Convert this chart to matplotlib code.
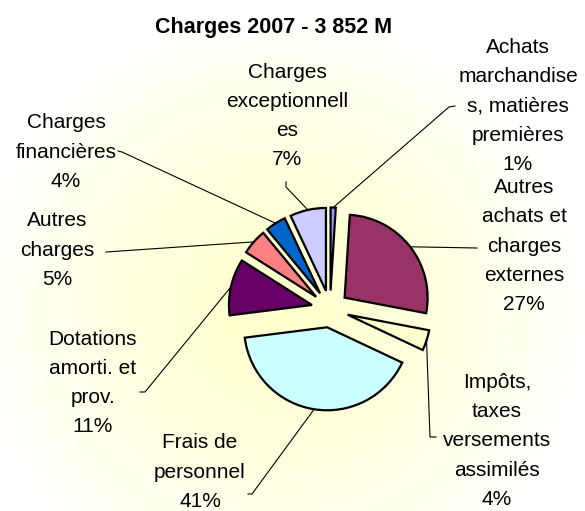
import numpy as np
import matplotlib
matplotlib.use("Agg")
import matplotlib.pyplot as plt

# ---- data ----
title = "Charges 2007 - 3 852 M"
categories = [
    "Achats\nmarchandise\ns, matières\npremières",
    "Autres\nachats et\ncharges\nexternes",
    "Impôts,\ntaxes\nversements\nassimilés",
    "Frais de\npersonnel",
    "Dotations\namorti. et\nprov.",
    "Autres\ncharges",
    "Charges\nfinancières",
    "Charges\nexceptionnell\nes",
]
shares = [1, 27, 4, 41, 11, 5, 4, 7]
colors = ["#9999FF", "#993366", "#FFFFCC", "#CCFFFF",
          "#660066", "#FF8080", "#0066CC", "#CCCCFF"]

# ---- layout (pixel coordinates, y downwards) ----
W, H = 585, 511
CENTER = (330, 309)
RADIUS = 83
EXPLODE = 18.5
label_pos = [(518, 106), (524, 246), (497, 441), (200, 472),
             (93, 383), (57, 250), (66, 152), (287, 116)]
leader_elbows = [
    [(449, 107), (455, 106)],
    [(477, 248)],
    [(430, 437), (436, 437)],
    [(252, 494), (248, 494)],
    [(145, 392), (140, 392)],
    [(106, 252)],
    [(122, 152), (118, 151)],
    [(286, 187), (286, 182)],
]

fig = plt.figure(figsize=(W / 100, H / 100), dpi=100)
ax = fig.add_axes([0, 0, 1, 1])

# background radial gradient (light yellow centre -> white edges)
yy, xx = np.mgrid[0:H, 0:W]
t = np.sqrt(((xx - 280) / 310.0) ** 2 + ((yy - 310) / 300.0) ** 2)
t = np.clip(t, 0, 1) ** 1.3
c0 = np.array([255, 255, 204]) / 255.0
c1 = np.array([255, 255, 255]) / 255.0
img = c0[None, None, :] * (1 - t[..., None]) + c1[None, None, :] * t[..., None]
ax.imshow(img, extent=[0, W, H, 0], zorder=0, interpolation="bilinear")

wedges, _ = ax.pie(shares, colors=colors, startangle=-90, counterclock=True,
                   radius=RADIUS, center=CENTER,
                   explode=[EXPLODE] * len(shares), frame=True,
                   wedgeprops=dict(edgecolor="black", linewidth=1.6, zorder=2))

ax.set_xlim(0, W)
ax.set_ylim(H, 0)
ax.axis("off")

for w, cat, s, (lx, ly), elbows in zip(wedges, categories, shares, label_pos, leader_elbows):
    tm = np.radians((w.theta1 + w.theta2) / 2)
    px = w.center[0] + w.r * np.cos(tm)
    py = w.center[1] + w.r * np.sin(tm)
    xs = [px] + [e[0] for e in elbows]
    ys = [py] + [e[1] for e in elbows]
    ax.plot(xs, ys, color="black", lw=0.8, zorder=3)
    ax.text(lx, ly, f"{cat}\n{s}%", ha="center", va="center",
            multialignment="center", fontsize=15,
            family="Liberation Sans", linespacing=1.68, zorder=4)

ax.text(274, 28, title, ha="center", va="center", fontsize=15.5,
        fontweight="bold", family="Liberation Sans", zorder=4)

fig.savefig("out.png", dpi=100)
